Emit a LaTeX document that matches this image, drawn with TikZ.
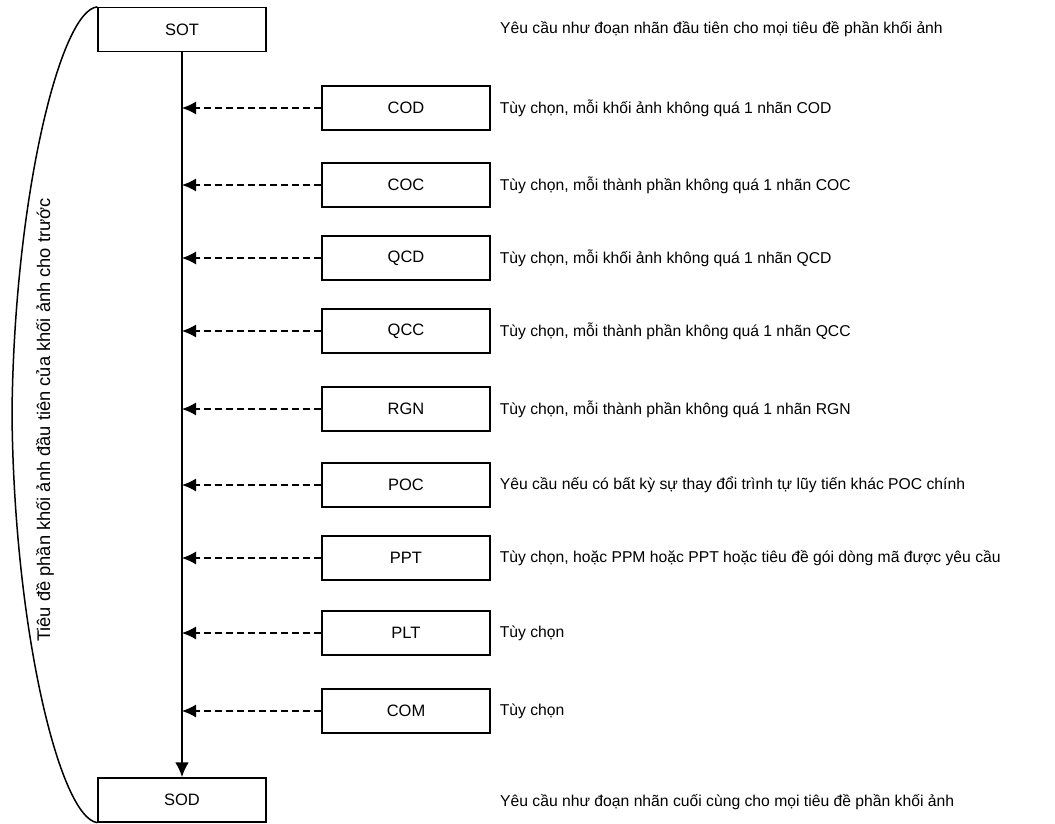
\documentclass[tikz,border=0pt]{standalone}
\usepackage{fontspec}
\setmainfont{Liberation Sans}
\usetikzlibrary{arrows.meta, positioning}

\begin{document}
\begin{tikzpicture}[x=1pt, y=-1pt,
  every node/.style={align=center},
  % Marker segments (main chain and optional ones)
  seg/.style={rectangle, draw=black, line width=1.3pt, minimum width=168pt, minimum height=44pt, inner sep=0pt, font=\fontsize{16.5}{19}\selectfont},
  % Notes on the right
  note/.style={anchor=west, inner sep=0pt, font=\fontsize{15.7}{18}\selectfont},
  % Main flow
  flow/.style={line width=2.6pt, -{Latex[length=15pt, width=14pt]}},
  % Optional markers
  opt/.style={line width=1.2pt, dash pattern=on 7pt off 4pt, -{Latex[length=14pt, width=13pt]}},
  % Bracket
  brace/.style={line width=1.5pt}
]
\useasboundingbox (0,0) rectangle (1055,824);

% === Main chain ===
\node[seg] (sot) at (182, 29.5) {SOT};
\node[seg] (sod) at (182, 800) {SOD};
\draw[flow] (sot.south) -- (sod.north);

\node[note] (sotn) at (500, 29) {Yêu cầu như đoạn nhãn đầu tiên cho mọi tiêu đề phần khối ảnh};
\node[note] (sodn) at (500, 802) {Yêu cầu như đoạn nhãn cuối cùng cho mọi tiêu đề phần khối ảnh};

% === Optional markers ===
\node[seg] (cod) at (406, 108) {COD};
\node[seg] (coc) at (406, 185) {COC};
\node[seg] (qcd) at (406, 258) {QCD};
\node[seg] (qcc) at (406, 331) {QCC};
\node[seg] (rgn) at (406, 409) {RGN};
\node[seg] (poc) at (406, 485) {POC};
\node[seg] (ppt) at (406, 558) {PPT};
\node[seg] (plt) at (406, 633) {PLT};
\node[seg] (com) at (406, 711) {COM};

% Notes
\node[note, right=9pt of cod] (codn) {Tùy chọn, mỗi khối ảnh không quá 1 nhãn COD};
\node[note, right=9pt of coc] (cocn) {Tùy chọn, mỗi thành phần không quá 1 nhãn COC};
\node[note, right=9pt of qcd] (qcdn) {Tùy chọn, mỗi khối ảnh không quá 1 nhãn QCD};
\node[note, right=9pt of qcc] (qccn) {Tùy chọn, mỗi thành phần không quá 1 nhãn QCC};
\node[note, right=9pt of rgn] (rgnn) {Tùy chọn, mỗi thành phần không quá 1 nhãn RGN};
\node[note, right=9pt of poc] (pocn) {Yêu cầu nếu có bất kỳ sự thay đổi trình tự lũy tiến khác POC chính};
\node[note, right=9pt of ppt] (pptn) {Tùy chọn, hoặc PPM hoặc PPT hoặc tiêu đề gói dòng mã được yêu cầu};
\node[note, right=9pt of plt] (pltn) {Tùy chọn};
\node[note, right=9pt of com] (comn) {Tùy chọn};

% Edges: optional -> main chain
\draw[opt] (cod.west) -- (cod.west -| sot.south);
\draw[opt] (coc.west) -- (coc.west -| sot.south);
\draw[opt] (qcd.west) -- (qcd.west -| sot.south);
\draw[opt] (qcc.west) -- (qcc.west -| sot.south);
\draw[opt] (rgn.west) -- (rgn.west -| sot.south);
\draw[opt] (poc.west) -- (poc.west -| sot.south);
\draw[opt] (ppt.west) -- (ppt.west -| sot.south);
\draw[opt] (plt.west) -- (plt.west -| sot.south);
\draw[opt] (com.west) -- (com.west -| sot.south);

% === Bracket on the left ===
\coordinate (mid) at (12, 414);
\draw[brace] (sot.north west) .. controls (60, 10) and (14, 200) .. (mid)
  .. controls (14, 630) and (60, 818) .. (sod.south west);
\node[rotate=90, font=\fontsize{18.3}{21}\selectfont] (side) at (45, 420) {Tiêu đề phần khối ảnh đầu tiên của khối ảnh cho trước};

\end{tikzpicture}
\end{document}
